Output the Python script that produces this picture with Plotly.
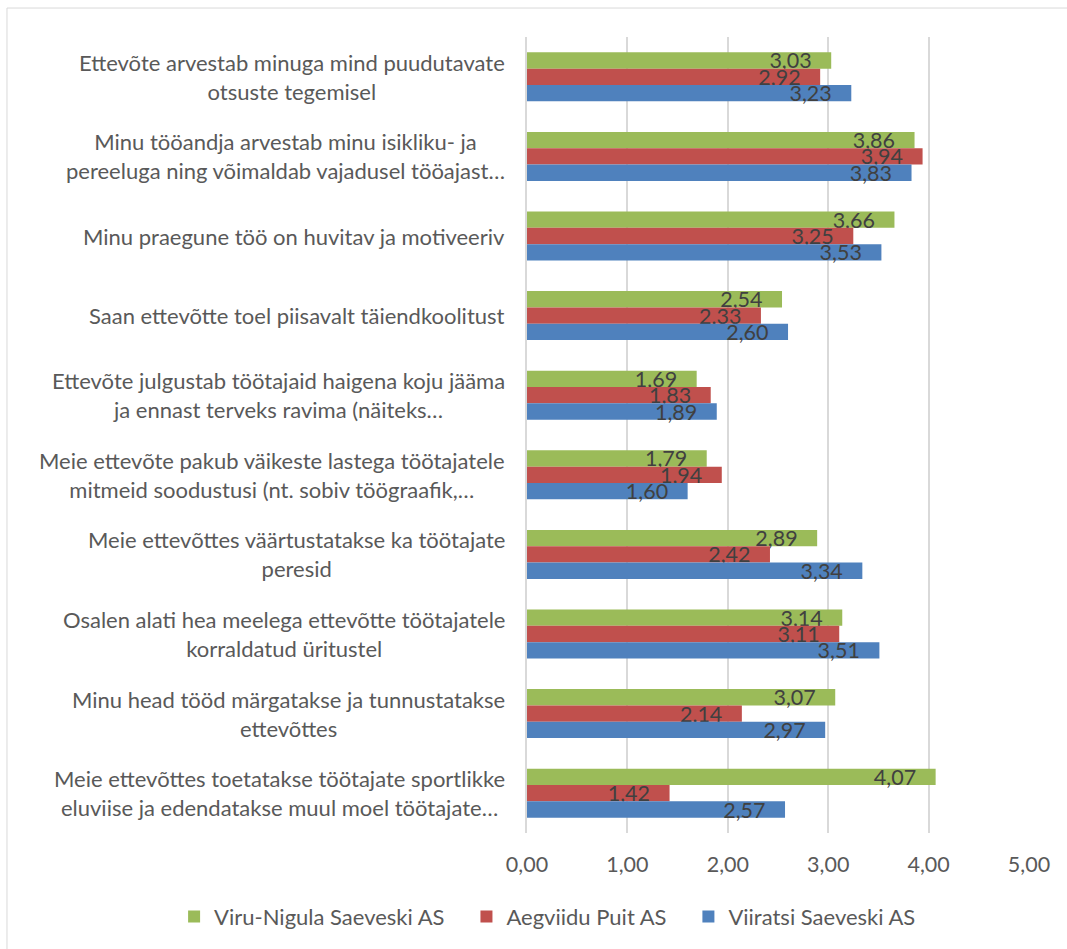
import plotly.graph_objects as go

categories = [
    "Ettevõte arvestab minuga mind puudutavate<br>otsuste tegemisel",
    "Minu tööandja arvestab minu isikliku- ja<br>pereeluga ning võimaldab vajadusel tööajast…",
    "Minu praegune töö on huvitav ja motiveeriv",
    "Saan ettevõtte toel piisavalt täiendkoolitust",
    "Ettevõte julgustab töötajaid haigena koju jääma<br>ja ennast terveks ravima (näiteks…",
    "Meie ettevõte pakub väikeste lastega töötajatele<br>mitmeid soodustusi (nt. sobiv töögraafik,…",
    "Meie ettevõttes väärtustatakse ka töötajate<br>peresid",
    "Osalen alati hea meelega ettevõtte töötajatele<br>korraldatud üritustel",
    "Minu head tööd märgatakse ja tunnustatakse<br>ettevõttes",
    "Meie ettevõttes toetatakse töötajate sportlikke<br>eluviise ja edendatakse muul moel töötajate…",
]

series_names = ["Viru-Nigula Saeveski AS", "Aegviidu Puit AS", "Viiratsi Saeveski AS"]
viru_nigula = [3.03, 3.86, 3.66, 2.54, 1.69, 1.79, 2.89, 3.14, 3.07, 4.07]
aegviidu = [2.92, 3.94, 3.25, 2.33, 1.83, 1.94, 2.42, 3.11, 2.14, 1.42]
viiratsi = [3.23, 3.83, 3.53, 2.60, 1.89, 1.60, 3.34, 3.51, 2.97, 2.57]
colors = ["#9BBB59", "#C0504D", "#4F81BD"]

tick_vals = [0, 1, 2, 3, 4, 5]
tick_text = ["0,00", "1,00", "2,00", "3,00", "4,00", "5,00"]

FONT = "Lato, 'Open Sans', sans-serif"
PAD = "\u00a0\u00a0\u00a0"

fig = go.Figure()
for name, vals, col in zip(series_names, [viru_nigula, aegviidu, viiratsi], colors):
    fig.add_trace(go.Bar(
        y=categories, x=vals, name=name + PAD, orientation="h",
        marker=dict(color=col, line=dict(width=0)),
        text=[f"{v:.2f}".replace(".", ",") + PAD for v in vals],
        textposition="inside", insidetextanchor="end", textangle=0,
        constraintext="none", cliponaxis=False,
        textfont=dict(family=FONT, size=21.5, color="#404040"),
        hoverinfo="x+name",
    ))

annotations = []
for c in categories:
    annotations.append(dict(
        xref="paper", yref="y", x=0, y=c, text=c, showarrow=False,
        xanchor="right", yanchor="middle", align="center", xshift=-20,
        font=dict(family=FONT, size=22, color="#595959"),
    ))

fig.update_layout(
    width=1067, height=949,
    margin=dict(l=527, r=38, t=37, b=116, autoexpand=False),
    paper_bgcolor="white", plot_bgcolor="white",
    barmode="group", bargap=0.384, bargroupgap=0,
    font=dict(family=FONT, size=21, color="#595959"),
    showlegend=True,
    legend=dict(orientation="h", x=-0.703, xanchor="left", y=-0.105, yanchor="middle",
                font=dict(family=FONT, size=22, color="#595959"), traceorder="normal",
                bgcolor="rgba(0,0,0,0)"),
    annotations=annotations,
    shapes=[dict(type="rect", xref="paper", yref="paper",
                 x0=-1.0359, x1=2.0, y0=-0.5, y1=1.0364,
                 line=dict(color="#D9D9D9", width=1), fillcolor="rgba(0,0,0,0)", layer="below")],
)
fig.update_xaxes(range=[0, 5], tickvals=tick_vals, ticktext=tick_text,
                 showgrid=True, gridcolor="#D9D9D9", gridwidth=1.5, zeroline=False,
                 showline=False, ticks="", ticklabelstandoff=16,
                 tickfont=dict(family=FONT, size=21.5, color="#595959"))
fig.update_yaxes(autorange="reversed", showticklabels=False, showgrid=False, zeroline=False,
                 showline=True, linecolor="#D9D9D9", linewidth=1.5, ticks="")

fig.write_html("out.html")
